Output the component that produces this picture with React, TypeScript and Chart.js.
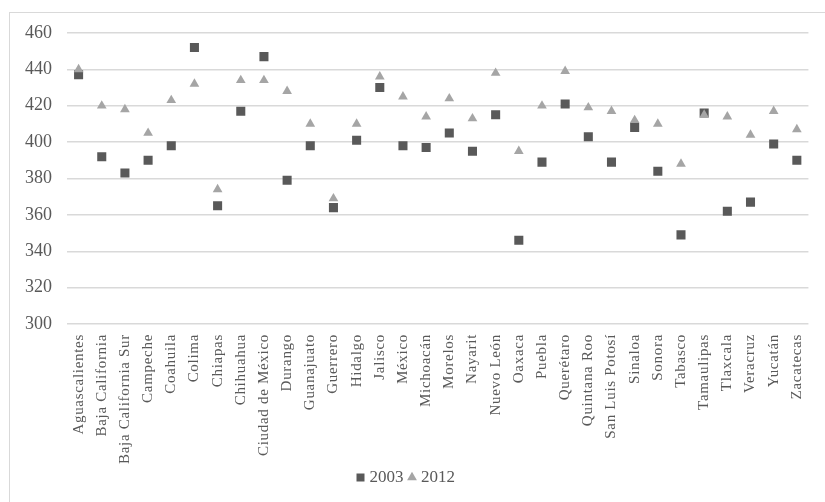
import React, { useEffect, useRef } from "react";
import { Chart, registerables } from "chart.js";

Chart.register(...registerables);

const states: string[] = [
  "Aguascalientes", "Baja California", "Baja California Sur", "Campeche",
  "Coahuila", "Colima", "Chiapas", "Chihuahua", "Ciudad de México",
  "Durango", "Guanajuato", "Guerrero", "Hidalgo", "Jalisco", "México",
  "Michoacán", "Morelos", "Nayarit", "Nuevo León", "Oaxaca", "Puebla",
  "Querétaro", "Quintana Roo", "San Luis Potosí", "Sinaloa", "Sonora",
  "Tabasco", "Tamaulipas", "Tlaxcala", "Veracruz", "Yucatán", "Zacatecas",
];

const scores2003: number[] = [
  437, 392, 383, 390, 398, 452, 365, 417, 447, 379, 398, 364, 401, 430, 398,
  397, 405, 395, 415, 346, 389, 421, 403, 389, 408, 384, 349, 416, 362, 367,
  399, 390,
];

const scores2012: number[] = [
  440, 420, 418, 405, 423, 432, 374, 434, 434, 428, 410, 369, 410, 436, 425,
  414, 424, 413, 438, 395, 420, 439, 419, 417, 412, 410, 388, 415, 414, 404,
  417, 407,
];

const yMin = 300;
const yMax = 460;
const yStep = 20;

const FONT = "'Liberation Serif', 'Times New Roman', serif";
const TEXT = "#595959";
const GRID = "#d9d9d9";

// Slightly spaced, unclipped category labels.
const spacedCategoryLabels = {
  id: "spacedCategoryLabels",
  afterUpdate(chart: any) {
    const xs = chart.scales.x;
    if (!xs || xs.__spaced) return;
    const original = xs.drawLabels;
    xs._computeLabelArea = () => undefined;
    xs.drawLabels = function (area: any) {
      const ctx = this.ctx;
      ctx.save();
      (ctx as any).letterSpacing = "0.7px";
      original.call(this, area);
      ctx.restore();
    };
    xs.__spaced = true;
  },
};

export default function App() {
  const canvasRef = useRef<HTMLCanvasElement | null>(null);

  useEffect(() => {
    if (!canvasRef.current) return;
    const chart = new Chart(canvasRef.current, {
      type: "line",
      data: {
        labels: states,
        datasets: [
          {
            label: "2003",
            data: scores2003,
            showLine: false,
            pointStyle: "rect",
            pointRadius: 6.4,
            pointHoverRadius: 6.4,
            backgroundColor: "#595959",
            borderColor: "#595959",
            borderWidth: 0,
            order: 1,
          },
          {
            label: "2012",
            data: scores2012,
            showLine: false,
            pointStyle: "triangle",
            pointRadius: 5.6,
            pointHoverRadius: 5.6,
            backgroundColor: "#a5a5a5",
            borderColor: "#a5a5a5",
            borderWidth: 0,
            order: 0,
          },
        ],
      },
      plugins: [spacedCategoryLabels],
      options: {
        animation: false,
        responsive: false,
        maintainAspectRatio: false,
        layout: { padding: { top: 33, right: 10, bottom: 6, left: 0 } },
        plugins: {
          tooltip: { enabled: false },
          legend: {
            position: "bottom",
            labels: {
              usePointStyle: true,
              boxWidth: 1,
              boxHeight: 8,
              padding: 8,
              color: TEXT,
              font: { family: FONT, size: 17 },
              sort: (a, b) => (a.datasetIndex ?? 0) - (b.datasetIndex ?? 0),
            },
          },
        },
        scales: {
          x: {
            type: "category",
            offset: true,
            grid: { display: false, drawTicks: false },
            border: { display: false },
            ticks: {
              autoSkip: false,
              minRotation: 90,
              maxRotation: 90,
              padding: 10,
              color: TEXT,
              font: { family: FONT, size: 15 },
            },
            afterFit: (scale) => {
              scale.height = 137;
            },
          },
          y: {
            min: yMin,
            max: yMax,
            grid: { color: GRID, lineWidth: 1.5, drawTicks: false },
            border: { display: false },
            ticks: {
              stepSize: yStep,
              padding: 15,
              color: TEXT,
              font: { family: FONT, size: 18 },
            },
            afterFit: (scale) => {
              scale.width = 67;
            },
          },
        },
      },
    });
    return () => chart.destroy();
  }, []);

  return (
    <div
      style={{
        position: "absolute",
        left: 0,
        top: 0,
        width: 825,
        height: 502,
        overflow: "hidden",
        background: "#ffffff",
      }}
    >
      <canvas
        ref={canvasRef}
        width={825}
        height={502}
        style={{ position: "absolute", left: 0, top: 0, width: 825, height: 502 }}
      />
      <div
        style={{
          position: "absolute",
          left: 9,
          top: 12,
          width: 840,
          height: 520,
          border: `1px solid ${GRID}`,
          pointerEvents: "none",
        }}
      />
    </div>
  );
}
